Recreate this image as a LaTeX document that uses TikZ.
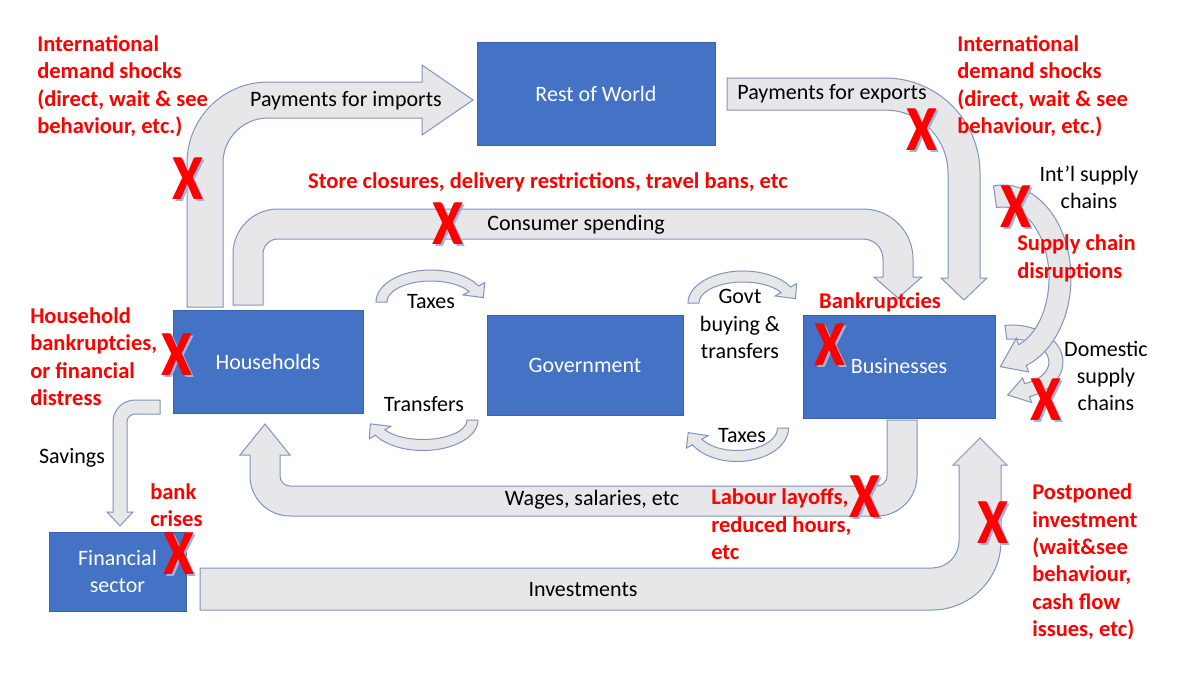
\documentclass[tikz,border=0pt]{standalone}
\usepackage{fontspec}
\setmainfont{Carlito}
\definecolor{boxblue}{HTML}{4472C4}
\definecolor{boxedge}{HTML}{3A62AE}
\definecolor{arrowfill}{HTML}{E7E7E9}
\definecolor{arrowline}{HTML}{7F95BD}
\definecolor{xred}{HTML}{FF0000}
\definecolor{xshadow}{HTML}{9DB4DE}

% curved arrow: cx, cy, rx, ry, start angle, end angle, half thickness, head length, head extra
\newcommand{\curvarr}[9]{%
  \begin{scope}[shift={(#1,#2)}]
    \pgfmathsetmacro\cra{#3+#7}\pgfmathsetmacro\crb{#4+#7}%
    \pgfmathsetmacro\crc{#3-#7}\pgfmathsetmacro\crd{#4-#7}%
    \pgfmathsetmacro\cre{#3+#7+#9}\pgfmathsetmacro\crf{#4+#7+#9}%
    \pgfmathsetmacro\crg{#3-#7-#9}\pgfmathsetmacro\crh{#4-#7-#9}%
    \pgfmathsetmacro\ctx{-(#3)*sin(#6)}\pgfmathsetmacro\cty{(#4)*cos(#6)}%
    \pgfmathsetmacro\ctn{sqrt(\ctx*\ctx+\cty*\cty)}%
    \pgfmathsetmacro\csg{ifthenelse(#6>#5,1,-1)}%
    \pgfmathsetmacro\cpx{(#3)*cos(#6)+\csg*(#8)*\ctx/\ctn}%
    \pgfmathsetmacro\cpy{(#4)*sin(#6)+\csg*(#8)*\cty/\ctn}%
    \draw[flow] ({\cra*cos(#5)},{\crb*sin(#5)})
      arc[start angle=#5, end angle=#6, x radius=\cra, y radius=\crb]
      -- ({\cre*cos(#6)},{\crf*sin(#6)})
      -- (\cpx,\cpy)
      -- ({\crg*cos(#6)},{\crh*sin(#6)})
      -- ({\crc*cos(#6)},{\crd*sin(#6)})
      arc[start angle=#6, end angle=#5, x radius=\crc, y radius=\crd]
      -- cycle;
  \end{scope}}

\newcommand{\xmark}[3]{%
  \node[xs] (#1s) at (#2+2.5,#3+2) {X};
  \node[xm] (#1a) at (#2-0.8,#3) {X};
  \node[xm] (#1) at (#2+0.8,#3) {X};}

\begin{document}
\begin{tikzpicture}[x=0.75pt,y=-0.75pt,
  flow/.style={fill=arrowfill, draw=arrowline, line width=0.75pt, line join=miter},
  box/.style={fill=boxblue, draw=boxedge, line width=0.5pt, text=white,
    font=\fontsize{16.5}{20.5}\selectfont, align=center, inner sep=0pt},
  lbl/.style={font=\fontsize{16.5}{20.5}\selectfont, text=black, align=center, inner sep=0pt},
  alert/.style={font=\bfseries\fontsize{16.9}{20.6}\selectfont, text=xred, align=left,
    inner sep=0pt, anchor=west},
  xm/.style={font=\bfseries\fontsize{48}{48}\selectfont, text=xred, inner sep=0pt, xscale=0.85},
  xs/.style={xm, text=xshadow}]

\useasboundingbox (0,0) rectangle (1200,675);
\fill[white] (0,0) rectangle (1200,675);

% ---------- block arrows ----------
% payments for imports
\draw[flow] (187,307) -- (187,163) arc[start angle=180,end angle=270,radius=81]
  -- (422,82) -- (422,65) -- (473,100) -- (422,135) -- (422,118)
  -- (268,118) arc[start angle=270,end angle=180,radius=45] -- (223,307) -- cycle;
% payments for exports
\draw[flow] (727,78) -- (885,78) arc[start angle=270,end angle=360,radius=95]
  -- (980,278) -- (987,278) -- (964,300) -- (941,278) -- (948,278)
  -- (948,173) arc[start angle=0,end angle=-90,radius=63] -- (727,110) -- cycle;
% consumer spending
\draw[flow] (233,305) -- (233,254) arc[start angle=180,end angle=270,radius=45]
  -- (863,209) arc[start angle=270,end angle=360,radius=50]
  -- (913,277) -- (922,277) -- (898,298) -- (874,277) -- (883,277)
  -- (883,259) arc[start angle=0,end angle=-90,radius=20]
  -- (278,239) arc[start angle=270,end angle=180,radius=15] -- (263,305) -- cycle;
% wages
\draw[flow] (887,420) -- (917,420) -- (917,476) arc[start angle=0,end angle=90,radius=40]
  -- (290,516) arc[start angle=90,end angle=180,radius=40]
  -- (250,455) -- (240,455) -- (265,424) -- (290,455) -- (280,455)
  -- (280,476) arc[start angle=180,end angle=90,radius=10]
  -- (877,486) arc[start angle=90,end angle=0,radius=10] -- cycle;
% investments
\draw[flow] (200,568) -- (932,568) arc[start angle=90,end angle=0,radius=27]
  -- (959,465) -- (953,465) -- (980,438) -- (1007,465) -- (1001,465)
  -- (1001,541) arc[start angle=0,end angle=90,radius=69] -- (200,610) -- cycle;
% savings
\draw[flow] (160,400) -- (135,400) arc[start angle=270,end angle=180,radius=22]
  -- (113,512) -- (107,512) -- (120,526) -- (133,512) -- (127,512)
  -- (127,422) arc[start angle=180,end angle=270,radius=8] -- (160,414) -- cycle;

% ---------- curved arrows ----------
\curvarr{431}{302}{49.5}{26.5}{180}{330}{5.5}{13}{7}
\curvarr{423}{420}{49.5}{25}{0}{150}{5.5}{13}{7}
\curvarr{743}{303}{49.5}{26.5}{180}{330}{5.5}{13}{7}
\curvarr{737}{428}{46}{28}{0}{150}{5.5}{13}{7}
\curvarr{1012}{362}{44}{30}{262}{430}{7}{20}{6}
\curvarr{1003}{278}{57}{82}{262}{430}{11}{25}{7}

% ---------- boxes ----------
\node[box, minimum width=178.5pt, minimum height=77.25pt] (row) at (596,93.5) {Rest of World};
\node[box, minimum width=142.5pt, minimum height=77.25pt] (hh) at (268,361.5) {Households};
\node[box, minimum width=147pt, minimum height=75pt] (gov) at (585,365) {Government};
\node[box, minimum width=144pt, minimum height=77.25pt] (bus) at (899,366.5) {Businesses};
\node[box, minimum width=102.75pt, minimum height=59.25pt] (fin) at (117.5,571.5) {Financial\\sector};

% ---------- black labels ----------
\node[lbl] (limp) at (346,101) {Payments for imports};
\node[lbl] (lexp) at (832,94) {Payments for exports};
\node[lbl] (lint) at (1089,187.5) {Int’l supply\\chains};
\node[lbl] (lcons) at (576,225) {Consumer spending};
\node[lbl] (ltax1) at (431,302) {Taxes};
\node[lbl] (lgovt) at (740,324) {Govt\\buying \&\\transfers};
\node[lbl] (ldom) at (1106,376) {Domestic\\supply\\chains};
\node[lbl] (ltrans) at (424,404) {Transfers};
\node[lbl] (ltax2) at (742,436) {Taxes};
\node[lbl] (lsav) at (72,458) {Savings};
\node[lbl] (lwage) at (592,500) {Wages, salaries, etc};
\node[lbl] (linv) at (583,590) {Investments};

% ---------- red labels ----------
\node[alert] (rintl) at (37,86.5) {International\\demand shocks\\(direct, wait \& see\\behaviour, etc.)};
\node[alert] (rintr) at (957,86.5) {International\\demand shocks\\(direct, wait \& see\\behaviour, etc.)};
\node[alert, anchor=center] (rstore) at (548,182) {Store closures, delivery restrictions, travel bans, etc};
\node[alert] (rhh) at (30,356.5) {Household\\bankruptcies,\\or financial\\distress};
\node[alert, anchor=center] (rbank) at (880,302) {Bankruptcies};
\node[alert] (rsup) at (1017,258.5) {Supply chain\\disruptions};
\node[alert] (rlab) at (711,524.5) {Labour layoffs,\\reduced hours,\\etc};
\node[alert] (rcri) at (150,505) {bank\\crises};
\node[alert] (rpost) at (1032,562) {Postponed\\investment\\(wait\&see\\behaviour,\\cash flow\\issues, etc)};

% ---------- X marks ----------
\xmark{xa}{188}{179}
\xmark{xb}{448}{224}
\xmark{xc}{922}{130}
\xmark{xd}{1016}{207}
\xmark{xe}{177}{355}
\xmark{xf}{830}{345}
\xmark{xg}{1046}{400}
\xmark{xh}{865}{497}
\xmark{xi}{179}{554}
\xmark{xj}{993}{523}

\end{tikzpicture}
\end{document}
